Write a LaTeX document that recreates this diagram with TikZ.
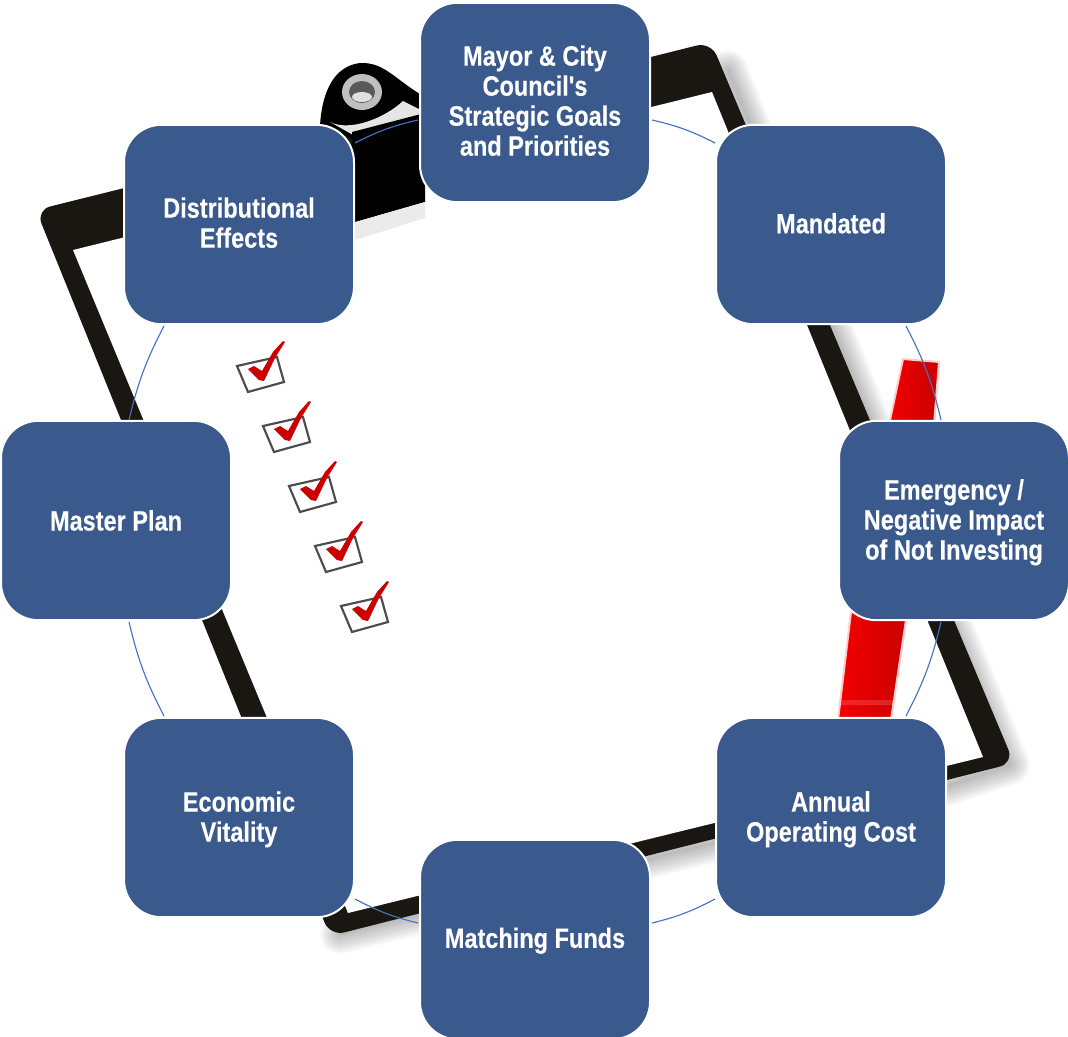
\documentclass[tikz,border=0pt]{standalone}
\usepackage{fontspec}
\newfontfamily\boxfont[FakeStretch=0.84,FakeBold=0.25]{Liberation Sans Bold}
\usetikzlibrary{calc}
\definecolor{boxblue}{HTML}{3A5A8E}
\definecolor{arcblue}{HTML}{4472C4}
\definecolor{framedark}{HTML}{1A1611}
\newcommand{\txtdown}{\rule{0pt}{18pt}}
\newcommand{\txtup}[1]{\rule[-#1]{0pt}{0pt}}
\tikzset{
  stepbox/.style={draw=white,line width=1.5pt,fill=boxblue,rounded corners=28pt,
    minimum width=172.5pt,minimum height=149.5pt,outer sep=0pt,inner sep=0pt,
    text=white,align=center,font=\boxfont\fontsize{21}{22.5}\selectfont},
  arcline/.style={draw=arcblue,line width=0.85pt},
  shadowstroke/.style={draw=black,line join=round,line cap=round,opacity=0.02},
}
\begin{document}
\begin{tikzpicture}[x=0.75pt,y=-0.75pt]
\useasboundingbox (0,0) rectangle (1068,1036);
\clip (0,0) rectangle (1068,1036);
% shadow of the clipboard
\foreach \w in {2,4,...,30}{
  \draw[shadowstroke,line width=\w pt] (728,70) -- (1010,765) -- (948,786) -- (340,934);
}
% clipboard frame
\fill[framedark,rounded corners=11pt] (36,210) -- (711,42) -- (1014,763) -- (330,936) -- cycle;
\fill[white] (73,250) -- (712,92) -- (983,757) -- (348,913) -- cycle;
% clip
\fill[black] (320,126) .. controls (322,90) and (335,66) .. (360,63) .. controls (385,62) and (395,80) .. (425,97) -- (425,120) -- (355,140) -- cycle;
\fill[white!90!black] (330,122) .. controls (350,132) and (385,118) .. (403,101) -- (425,112) -- (425,118) -- (400,122) -- (355,136) -- cycle;
\fill[black] (352,132) -- (425,113) -- (425,202) -- (352,223) -- cycle;
\fill[black!8] (352,223) -- (425,202) -- (425,218) -- (352,241) -- cycle;
\fill[black] (362,93) ellipse (27 and 25);
\fill[black!25] (362,92) ellipse (20 and 18);
\fill[black!65] (362,92) ellipse (13 and 11);
\fill[black!12] (362,97) ellipse (10 and 5);
% red marker
\draw[red!20,line width=1.5pt,left color=red!95!black,right color=red!78!black] (903,359) -- (939,362) -- (934,425) -- (889,425) -- cycle;
\draw[red!20,line width=1.5pt,left color=red!95!black,right color=red!80!black] (851,612) -- (906,620) -- (891,720) -- (838,720) -- cycle;
\fill[white,opacity=0.15] (841,700) -- (895,700) -- (894,705) -- (840,705) -- cycle;
% check marks
\foreach \i in {0,...,4}{
  \begin{scope}[shift={(26*\i,60*\i)}]
    \draw[black!70,line width=1.6pt] (237,366) -- (277,357) -- (284,382) -- (248,392) -- cycle;
    \fill[red!80!black] (248,369) -- (254,366) -- (262,371) -- (273,352) -- (283,341) -- (285,342) -- (275,358) -- (264,381) -- (259,380) -- cycle;
  \end{scope}
}
% boxes
\node[stepbox] (mayor) at (535,102.5) {Mayor \& City\\Council's\\Strategic Goals\\and Priorities\txtup{3pt}};
\node[stepbox] (mandated) at (831,224.5) {Mandated\txtup{2pt}};
\node[stepbox] (emergency) at (954,520.5) {\txtdown Emergency /\\Negative Impact\\of Not Investing};
\node[stepbox] (annual) at (831,817.5) {\txtdown Annual\\Operating Cost};
\node[stepbox] (matching) at (535,939.5) {\rule{0pt}{17pt}Matching Funds};
\node[stepbox] (economic) at (239,817.5) {\txtdown Economic\\Vitality};
\node[stepbox] (master) at (116,520.5) {Master Plan};
\node[stepbox] (distrib) at (239,224.5) {Distributional\\Effects\txtup{3pt}};
% connectors
\draw[arcline] ($(mayor.center)+(117,17.5)$) to[bend left=7] ($(mandated.center)+(-116,-81.5)$);
\draw[arcline] ($(mandated.center)+(75,101.5)$) to[bend left=7] ($(emergency.center)+(-13,-100.5)$);
\draw[arcline] ($(emergency.center)+(-13,101.5)$) to[bend left=7] ($(annual.center)+(75,-101.5)$);
\draw[arcline] ($(annual.center)+(-116,81.5)$) to[bend left=7] ($(matching.center)+(117,-16.5)$);
\draw[arcline] ($(matching.center)+(-117,-16.5)$) to[bend left=7] ($(economic.center)+(116,81.5)$);
\draw[arcline] ($(economic.center)+(-75,-101.5)$) to[bend left=7] ($(master.center)+(13,101.5)$);
\draw[arcline] ($(master.center)+(13,-100.5)$) to[bend left=7] ($(distrib.center)+(-75,101.5)$);
\draw[arcline] ($(distrib.center)+(116,-81.5)$) to[bend left=7] ($(mayor.center)+(-117,17.5)$);
\end{tikzpicture}
\end{document}
